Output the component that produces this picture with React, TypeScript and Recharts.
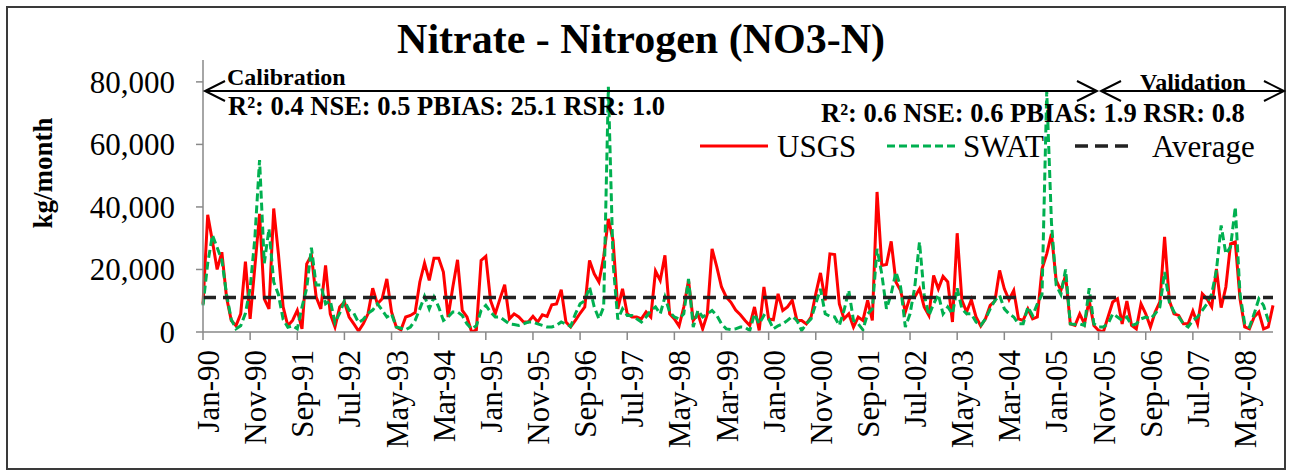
import React from 'react';
import { LineChart, Line, XAxis, YAxis, ReferenceLine, Legend } from 'recharts';

const SERIF = '"Liberation Serif", "Times New Roman", serif';

const MONTH_NAMES = ['Jan', 'Feb', 'Mar', 'Apr', 'May', 'Jun', 'Jul', 'Aug', 'Sep', 'Oct', 'Nov', 'Dec'];
const YEARS = ['90', '91', '92', '93', '94', '95', '96', '97', '98', '99', '00', '01', '02', '03', '04', '05', '06', '07', '08'];

// kg/month, Jan-90 .. Dec-08
const usgs = [
  9000, 37500, 29000, 20000, 25500, 11000, 3700, 2000, 5800, 22500,
  4200, 20800, 37800, 10600, 7400, 39500, 25000, 8000, 2000, 3700,
  6900, 1000, 21800, 24500, 11200, 7400, 21300, 5800, 1600, 8000,
  9600, 4800, 2600, 300, 2600, 5800, 14000, 9000, 10600, 17000,
  6400, 1600, 700, 4800, 5300, 6200, 16000, 22000, 16500, 23600,
  23600, 19200, 4800, 14400, 23100, 6900, 4800, 0, 700, 22900,
  24200, 10100, 5800, 10600, 15100, 4200, 5800, 4800, 3200, 3200,
  5000, 3200, 5500, 5000, 8700, 9000, 13500, 3200, 1600, 3700,
  6000, 8000, 22900, 18600, 16000, 24000, 36200, 29300, 7400, 13800,
  5800, 4800, 4800, 4200, 6400, 4800, 19500, 16500, 24500, 5800,
  4200, 1900, 8000, 16500, 3700, 5800, 1000, 5800, 26600, 20800,
  14400, 11200, 9500, 7000, 5500, 3700, 2100, 8000, 500, 14400,
  4200, 3900, 12200, 6900, 8000, 10100, 3700, 3700, 2600, 4800,
  12200, 18900, 10100, 25000, 24800, 9000, 4200, 5800, 1600, 4800,
  3700, 10100, 3700, 44800, 21300, 21600, 29000, 16000, 13300, 6400,
  11200, 11200, 13800, 8000, 5300, 18100, 13800, 17800, 16000, 3200,
  31600, 10100, 6400, 10300, 4800, 1900, 4200, 8500, 9900, 19700,
  13800, 10300, 13300, 4200, 3700, 7400, 4200, 4800, 20200, 25000,
  31400, 16500, 13300, 18100, 2600, 2100, 5800, 2600, 10100, 2100,
  500, 0, 4800, 9600, 10600, 2600, 9900, 2100, 1000, 9000,
  5800, 1600, 6400, 9600, 30400, 10100, 5800, 5300, 2600, 2600,
  6700, 2600, 12200, 10600, 8000, 20200, 7800, 14400, 28200, 28800,
  10600, 1600, 1000, 4800, 6400, 1000, 1600, 8500,
];

const swat = [
  8500, 22000, 31000, 27000, 23000, 12000, 4000, 1000, 2000, 6000,
  14000, 30000, 55000, 22000, 33000, 16000, 12000, 4000, 1500, 2000,
  1000, 8000, 14000, 27000, 15000, 15000, 9000, 10000, 3000, 6000,
  10000, 7000, 6000, 3000, 4000, 6000, 7000, 9000, 7000, 4800,
  5800, 1600, 1200, 700, 1600, 3700, 7400, 11400, 7400, 11200,
  8000, 3700, 4800, 6400, 6400, 5300, 2600, 1000, 2000, 6900,
  8500, 6400, 4800, 4800, 3700, 2600, 2400, 2100, 2600, 3200,
  3200, 2600, 2100, 1600, 1600, 2100, 3200, 2500, 1800, 5800,
  9000, 10000, 14400, 8000, 4200, 8000, 78400, 22000, 4000, 7400,
  5300, 5300, 4200, 3200, 4800, 6900, 8000, 5800, 11200, 6400,
  4800, 4200, 5800, 17000, 1600, 6900, 4800, 5800, 6900, 5300,
  2600, 1000, 800, 1000, 1600, 1500, 500, 5800, 2600, 5300,
  4200, 1000, 2000, 2600, 3700, 5000, 3700, 500, 2600, 4200,
  9000, 13800, 5800, 5000, 4800, 2100, 6900, 13300, 3700, 2600,
  700, 5800, 7400, 26600, 18600, 7400, 12200, 19200, 14400, 1600,
  5800, 14400, 28800, 12000, 5300, 9000, 12000, 5800, 8000, 5800,
  14000, 7400, 5800, 5800, 3200, 2100, 4200, 7400, 10100, 11700,
  7400, 5800, 4800, 2600, 2600, 8000, 5300, 9000, 12000, 77000,
  35000, 15000, 12000, 20000, 2600, 2400, 2600, 2100, 14000, 2600,
  1600, 1600, 2600, 5800, 4800, 3700, 4800, 2100, 2600, 4200,
  4800, 4200, 5800, 8000, 19200, 9600, 6400, 4800, 2600, 1600,
  3700, 4800, 6900, 9000, 12200, 19700, 34100, 25000, 27200, 40000,
  12200, 2600, 1600, 5800, 10600, 8500, 3700, 4200,
];

const AVERAGE = 11000;
const yTicks = [0, 20000, 40000, 60000, 80000];

const data = usgs.map((v, i) => ({
  month: `${MONTH_NAMES[i % 12]}-${YEARS[Math.floor(i / 12)]}`,
  usgs: v,
  swat: swat[i],
}));

const XTick = ({ x, y, payload }: any) => (
  <text
    x={x + 16}
    y={y}
    transform={`rotate(-90 ${x + 16} ${y})`}
    textAnchor="end"
    fontSize={31}
    fontFamily={SERIF}
    fill="#000"
  >
    {payload.value}
  </text>
);

const renderLegend = () => (
  <svg width={600} height={50} style={{ fontFamily: SERIF }}>
    <line x1={10} y1={27} x2={78} y2={27} stroke="#FF0000" strokeWidth={3} />
    <text x={87} y={38} fontSize={31} fill="#000">USGS</text>
    <line x1={197} y1={27} x2={265} y2={27} stroke="#00B050" strokeWidth={3} strokeDasharray="8 4" />
    <text x={273} y={38} fontSize={31} fill="#000">SWAT</text>
    <line x1={385} y1={27} x2={443} y2={27} stroke="#222" strokeWidth={3.5} strokeDasharray="13 7" />
    <text x={462} y={38} fontSize={31} fill="#000">Average</text>
  </svg>
);

const Arrow = ({ x1, x2, y }: { x1: number; x2: number; y: number }) => (
  <g stroke="#000" strokeWidth={2} fill="none">
    <line x1={x1} y1={y} x2={x2} y2={y} />
    <polyline points={`${x1 + 20},${y - 10} ${x1},${y} ${x1 + 20},${y + 10}`} />
    <polyline points={`${x2 - 20},${y - 10} ${x2},${y} ${x2 - 20},${y + 10}`} />
  </g>
);

export default function App() {
  return (
    <div style={{ position: 'absolute', left: 0, top: 0, width: 1291, height: 471, background: '#fff' }}>
      <LineChart width={1291} height={471} data={data} margin={{ top: 60, right: 18, bottom: 0, left: 0 }}>
        <XAxis
          dataKey="month"
          interval={9}
          height={139}
          tick={<XTick />}
          tickSize={8}
          tickMargin={10}
          axisLine={{ stroke: '#898989', strokeWidth: 1.5 }}
          tickLine={{ stroke: '#898989', strokeWidth: 1.5 }}
        />
        <YAxis
          type="number"
          domain={[0, 87000]}
          ticks={yTicks}
          allowDataOverflow
          width={203}
          tickSize={7}
          tickMargin={21}
          tickFormatter={(v: number) => v.toLocaleString('en-US')}
          tick={{ fontSize: 31, fill: '#000', fontFamily: SERIF }}
          axisLine={{ stroke: '#898989', strokeWidth: 1.5 }}
          tickLine={{ stroke: '#898989', strokeWidth: 1.5 }}
        />
        <Legend
          content={renderLegend}
          layout="horizontal"
          verticalAlign="middle"
          wrapperStyle={{ left: 690, top: 119, width: 600, height: 50 }}
        />
        <Line type="linear" dataKey="usgs" name="USGS" stroke="#FF0000" strokeWidth={3} dot={false} isAnimationActive={false} />
        <Line type="linear" dataKey="swat" name="SWAT" stroke="#00B050" strokeWidth={3} strokeDasharray="8 4" dot={false} isAnimationActive={false} />
        <ReferenceLine y={AVERAGE} stroke="#222" strokeWidth={3.5} strokeDasharray="13 7" />
      </LineChart>

      <svg
        width={1291}
        height={471}
        style={{ position: 'absolute', left: 0, top: 0, pointerEvents: 'none', fontFamily: SERIF }}
      >
        <rect x={7} y={7} width={1278} height={462} fill="none" stroke="#3a3a3a" strokeWidth={2} />
        <text x={641} y={53} textAnchor="middle" fontSize={42} fontWeight="bold" fill="#000">
          Nitrate - Nitrogen (NO3-N)
        </text>
        <text transform="rotate(-90 52 173)" x={52} y={173} textAnchor="middle" fontSize={27} fontWeight="bold" fill="#000">
          kg/month
        </text>
        <Arrow x1={205} x2={1097} y={91} />
        <Arrow x1={1101} x2={1284} y={91} />
        <text x={227} y={85} fontSize={24} fontWeight="bold" fill="#000">Calibration</text>
        <text x={1140} y={90} fontSize={24} fontWeight="bold" fill="#000">Validation</text>
        <text x={228} y={115} fontSize={26.5} fontWeight="bold" fill="#000">
          R²: 0.4 NSE: 0.5 PBIAS: 25.1 RSR: 1.0
        </text>
        <text x={821} y={122} fontSize={26.5} fontWeight="bold" fill="#000">
          R²: 0.6 NSE: 0.6 PBIAS: 1.9 RSR: 0.8
        </text>
      </svg>
    </div>
  );
}
